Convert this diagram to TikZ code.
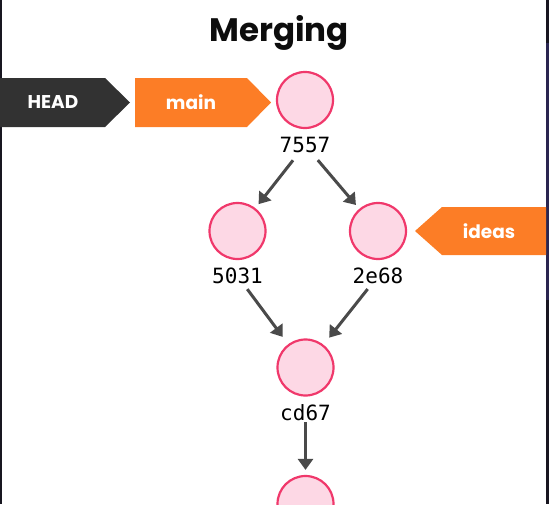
\documentclass[tikz,border=0pt]{standalone}
\usepackage{fontspec}
\setmainfont{Poppins}
\setmonofont{DejaVu Sans Mono}
\usetikzlibrary{arrows.meta,positioning}
\definecolor{tagorange}{RGB}{252,125,38}
\definecolor{tagdark}{RGB}{50,50,50}
\definecolor{commitfill}{RGB}{253,216,229}
\definecolor{commitline}{RGB}{240,56,107}
\definecolor{arrowgray}{RGB}{74,74,74}
\definecolor{edgedark}{RGB}{24,22,32}
\definecolor{edgepurple}{RGB}{42,37,80}

\begin{document}
\begin{tikzpicture}[x=1pt,y=-1pt,
  commit/.style={circle,draw=commitline,line width=2.2pt,fill=commitfill,minimum size=56pt,inner sep=0pt},
  hash/.style={font=\ttfamily\fontsize{21}{24}\selectfont,inner sep=1pt},
  tagtext/.style={text=white,font=\bfseries\fontsize{18.5}{20}\selectfont},
  link/.style={-{Triangle[length=11pt,width=15pt]},draw=arrowgray,line width=3pt}]
\useasboundingbox (0,0) rectangle (549,504);
\fill[edgedark] (0,0) rectangle (2,504);
\fill[edgedark] (546,0) rectangle (549,504);
\fill[edgepurple] (546,43) rectangle (549,300);
\node[font=\bfseries\fontsize{32.5}{36}\selectfont,text=black!95] (title) at (279,33) {Merging};
% commits
\node[commit] (c7557) at (305,100) {};
\node[hash] (l7557) at (305,145) {7557};
\node[commit] (c5031) at (237.5,231) {};
\node[hash] (l5031) at (237.5,276) {5031};
\node[commit] (c2e68) at (378,231) {};
\node[hash] (l2e68) at (378,276) {2e68};
\node[commit] (ccd67) at (305.5,367.5) {};
\node[hash] (lcd67) at (305.5,413) {cd67};
\node[commit] (cnext) at (305.5,504) {};
% branch tags
\fill[tagdark] (0,78) -- (105,78) -- (130,102.5) -- (105,127) -- (0,127) -- cycle;
\node[tagtext] (head) at (53,102.5) {HEAD};
\fill[tagorange] (135,78) -- (247,78) -- (271,102.5) -- (247,127) -- (135,127) -- cycle;
\node[tagtext] (main) at (191,102.5) {main};
\fill[tagorange] (546,207) -- (442,207) -- (415,231) -- (442,255) -- (546,255) -- cycle;
\node[tagtext] (ideas) at (489,231) {ideas};
% parents
\draw[link,shorten <=8pt,shorten >=5pt] (l7557) -- (c5031);
\draw[link,shorten <=8pt,shorten >=5pt] (l7557) -- (c2e68);
\draw[link,shorten <=5pt,shorten >=9pt] (l5031) -- (ccd67);
\draw[link,shorten <=5pt,shorten >=9pt] (l2e68) -- (ccd67);
\draw[link,shorten <=0pt,shorten >=5pt] (lcd67) -- (cnext);
\end{tikzpicture}
\end{document}
